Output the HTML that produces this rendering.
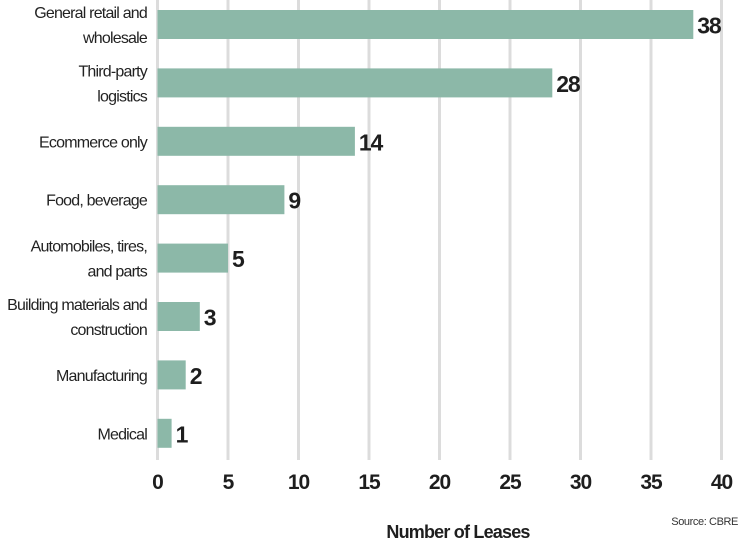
<!DOCTYPE html>
<html><head><meta charset="utf-8"><style>
body{margin:0;background:#fff;}
svg{display:block;font-family:"Liberation Sans",sans-serif;}
</style></head><body>
<svg id="chart" width="750" height="550"></svg>
<script>
const categories=[["General retail and","wholesale"],["Third-party","logistics"],["Ecommerce only"],["Food, beverage"],["Automobiles, tires,","and parts"],["Building materials and","construction"],["Manufacturing"],["Medical"]];
const values=[38,28,14,9,5,3,2,1];
const ticks=[0,5,10,15,20,25,30,35,40];
const NS="http://www.w3.org/2000/svg";
const svg=document.getElementById('chart');
const x0=157.5,pxPer=14.1,top0=10,step=58.4,bh=29;
const X=v=>x0+v*pxPer;
const Y=i=>top0+i*step;
function mk(t,a,txt){const e=document.createElementNS(NS,t);for(const k in a)e.setAttribute(k,a[k]);if(txt!==undefined)e.textContent=txt;svg.appendChild(e);return e;}
ticks.forEach(t=>{
 const g=mk('line',{x1:X(t),x2:X(t),y1:0,y2:460,stroke:'#dcdcdc','stroke-width':3});
 
 
 const l=mk('text',{x:X(t),y:489,'text-anchor':'middle','font-size':21,'font-weight':'bold',fill:'#1e1e1e','letter-spacing':'-1'},String(t));
 
 
});
values.forEach((v,i)=>{
 const b=mk('rect',{x:x0,y:Y(i),width:X(v)-x0,height:bh,fill:'#8cb8a8'});
 
 
 const t=mk('text',{x:X(v)+4,y:Y(i)+bh/2+9,'font-size':23,'font-weight':'bold',fill:'#1e1e1e','letter-spacing':'-1.2'},String(v));
 
 
 const lines=categories[i];
 const cy=Y(i)+bh/2;
 lines.forEach((s,j)=>{
  const yy=cy+6+(j-(lines.length-1)/2)*25;
  const c=mk('text',{x:147,y:yy,'text-anchor':'end','font-size':16,fill:'#222','letter-spacing':'-0.8'},s);
  
  
 });
});
const xt=mk('text',{x:458,y:538,'text-anchor':'middle','font-size':18,'font-weight':'bold',fill:'#1e1e1e','letter-spacing':'-0.8'},'Number of Leases');


const src=mk('text',{x:738,y:525,'text-anchor':'end','font-size':11,fill:'#333','letter-spacing':'-0.4'},'Source: CBRE');


</script>
</body></html>
